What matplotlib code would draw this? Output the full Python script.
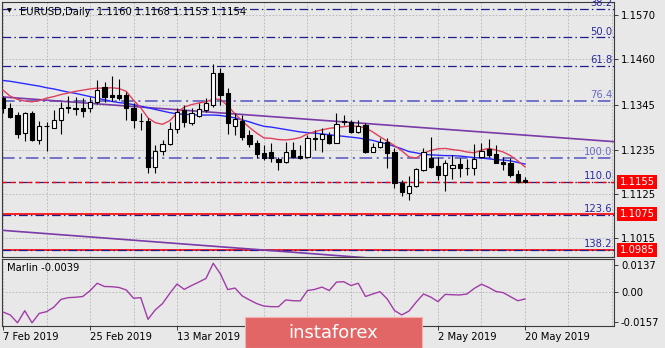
"""
EURUSD daily candlestick chart with moving averages, Fibonacci levels,
trend channel and the Marlin oscillator in a sub-window.
"""
import numpy as np
import matplotlib
matplotlib.use("Agg")  # Non-interactive backend
import matplotlib.pyplot as plt
import matplotlib.transforms as mtransforms
from matplotlib.patches import Rectangle


# Daily bars, 7 Feb 2019 .. 20 May 2019
OPEN = [1.1363, 1.1339, 1.1321, 1.1276, 1.1325, 1.1259, 1.1293, 1.1289, 1.1309, 1.1340,
        1.1339, 1.1338, 1.1338, 1.1354, 1.1390, 1.1371, 1.1371, 1.1371, 1.1338, 1.1307,
        1.1306, 1.1192, 1.1231, 1.1248, 1.1286, 1.1333, 1.1300, 1.1319, 1.1333, 1.1346,
        1.1425, 1.1375, 1.1294, 1.1306, 1.1271, 1.1251, 1.1226, 1.1228, 1.1211, 1.1203,
        1.1234, 1.1219, 1.1217, 1.1262, 1.1261, 1.1271, 1.1252, 1.1303, 1.1303, 1.1280,
        1.1296, 1.1230, 1.1241, 1.1255, 1.1229, 1.1153, 1.1128, 1.1144, 1.1184, 1.1213,
        1.1194, 1.1172, 1.1189, 1.1199, 1.1188, 1.1189, 1.1216, 1.1236, 1.1224, 1.1205,
        1.1202, 1.1174, 1.1160]
HIGH = [1.1368, 1.1350, 1.1328, 1.1329, 1.1331, 1.1306, 1.1304, 1.1334, 1.1354, 1.1369,
        1.1367, 1.1364, 1.1367, 1.1408, 1.1404, 1.1419, 1.1411, 1.1379, 1.1351, 1.1325,
        1.1313, 1.1246, 1.1259, 1.1304, 1.1338, 1.1346, 1.1338, 1.1350, 1.1363, 1.1449,
        1.1437, 1.1389, 1.1325, 1.1321, 1.1284, 1.1259, 1.1246, 1.1251, 1.1217, 1.1255,
        1.1255, 1.1246, 1.1271, 1.1284, 1.1288, 1.1280, 1.1325, 1.1321, 1.1309, 1.1309,
        1.1300, 1.1251, 1.1263, 1.1263, 1.1239, 1.1159, 1.1169, 1.1188, 1.1238, 1.1266,
        1.1217, 1.1209, 1.1222, 1.1213, 1.1211, 1.1249, 1.1251, 1.1261, 1.1246, 1.1217,
        1.1213, 1.1184, 1.1168]
LOW = [1.1326, 1.1314, 1.1265, 1.1256, 1.1256, 1.1248, 1.1232, 1.1288, 1.1274, 1.1325,
       1.1321, 1.1317, 1.1328, 1.1348, 1.1354, 1.1357, 1.1358, 1.1309, 1.1288, 1.1284,
       1.1176, 1.1176, 1.1222, 1.1246, 1.1276, 1.1292, 1.1296, 1.1317, 1.1329, 1.1342,
       1.1346, 1.1273, 1.1271, 1.1259, 1.1242, 1.1213, 1.1209, 1.1205, 1.1184, 1.1201,
       1.1213, 1.1212, 1.1213, 1.1234, 1.1230, 1.1249, 1.1251, 1.1296, 1.1276, 1.1276,
       1.1226, 1.1228, 1.1238, 1.1190, 1.1139, 1.1120, 1.1110, 1.1143, 1.1182, 1.1190,
       1.1159, 1.1133, 1.1163, 1.1166, 1.1172, 1.1172, 1.1213, 1.1217, 1.1201, 1.1184,
       1.1167, 1.1153, 1.1153]
CLOSE = [1.1338, 1.1317, 1.1273, 1.1325, 1.1259, 1.1294, 1.1295, 1.1309, 1.1338, 1.1338,
         1.1337, 1.1332, 1.1354, 1.1383, 1.1367, 1.1365, 1.1363, 1.1338, 1.1309, 1.1305,
         1.1192, 1.1231, 1.1248, 1.1286, 1.1329, 1.1304, 1.1325, 1.1336, 1.1350, 1.1425,
         1.1371, 1.1300, 1.1311, 1.1267, 1.1248, 1.1223, 1.1213, 1.1213, 1.1203, 1.1230,
         1.1217, 1.1213, 1.1263, 1.1264, 1.1273, 1.1251, 1.1298, 1.1305, 1.1280, 1.1294,
         1.1230, 1.1242, 1.1255, 1.1226, 1.1153, 1.1130, 1.1144, 1.1186, 1.1230, 1.1192,
         1.1172, 1.1201, 1.1197, 1.1189, 1.1189, 1.1211, 1.1232, 1.1222, 1.1202, 1.1199,
         1.1172, 1.1155, 1.1154]

# Moving averages as plotted on the chart
MA_FAST = [1.1383, 1.1368, 1.1360, 1.1356, 1.1354, 1.1357, 1.1363, 1.1367, 1.1372, 1.1376,
           1.1380, 1.1383, 1.1386, 1.1388, 1.1388, 1.1389, 1.1387, 1.1380, 1.1358, 1.1339,
           1.1314, 1.1302, 1.1298, 1.1307, 1.1326, 1.1341, 1.1347, 1.1351, 1.1354, 1.1361,
           1.1360, 1.1344, 1.1324, 1.1306, 1.1290, 1.1276, 1.1264, 1.1263, 1.1260, 1.1259,
           1.1261, 1.1265, 1.1274, 1.1280, 1.1284, 1.1288, 1.1290, 1.1292, 1.1294, 1.1293,
           1.1289, 1.1279, 1.1267, 1.1256, 1.1245, 1.1232, 1.1217, 1.1214, 1.1226, 1.1233,
           1.1237, 1.1238, 1.1235, 1.1233, 1.1229, 1.1227, 1.1234, 1.1238, 1.1234, 1.1229,
           1.1220, 1.1207, 1.1192]
MA_SLOW = [1.1407, 1.1405, 1.1402, 1.1399, 1.1396, 1.1393, 1.1389, 1.1386, 1.1382, 1.1378,
           1.1375, 1.1371, 1.1367, 1.1363, 1.1359, 1.1355, 1.1352, 1.1350, 1.1347, 1.1343,
           1.1339, 1.1335, 1.1331, 1.1327, 1.1324, 1.1323, 1.1322, 1.1321, 1.1321, 1.1321,
           1.1320, 1.1317, 1.1314, 1.1309, 1.1304, 1.1298, 1.1293, 1.1291, 1.1288, 1.1285,
           1.1282, 1.1279, 1.1277, 1.1276, 1.1274, 1.1272, 1.1270, 1.1268, 1.1266, 1.1264,
           1.1261, 1.1258, 1.1253, 1.1249, 1.1243, 1.1237, 1.1230, 1.1227, 1.1223, 1.1222,
           1.1221, 1.1220, 1.1220, 1.1219, 1.1217, 1.1215, 1.1214, 1.1212, 1.1210, 1.1209,
           1.1207, 1.1203, 1.1199]

# Marlin oscillator, one value per bar
MARLIN = [-0.0107, -0.0122, -0.0163, -0.0100, -0.0163, -0.0114, -0.0105, -0.0082, -0.0041, -0.0032,
          -0.0030, -0.0026, 0.0004, 0.0043, 0.0026, 0.0025, 0.0021, 0.0008, -0.0035, -0.0032,
          -0.0145, -0.0096, -0.0063, -0.0010, 0.0039, 0.0011, 0.0031, 0.0049, 0.0068, 0.0147,
          0.0091, 0.0010, 0.0018, -0.0023, -0.0044, -0.0063, -0.0076, -0.0079, -0.0079, -0.0044,
          -0.0048, -0.0049, 0.0005, 0.0011, 0.0023, 0.0005, 0.0049, 0.0051, 0.0031, 0.0043,
          -0.0026, -0.0013, -0.0001, -0.0039, -0.0099, -0.0122, -0.0102, -0.0055, -0.0013, -0.0029,
          -0.0053, -0.0015, -0.0017, -0.0018, -0.0013, 0.0016, 0.0038, 0.0021, 0.0000, -0.0006,
          -0.0027, -0.0048, -0.0039]

# Time-axis labels (29 Mar and 16 Apr sit under the watermark, ticks only)
DATE_BARS = [0, 12, 24, 36, 48, 60, 72]
DATE_LABELS = ["7 Feb 2019", "25 Feb 2019", "13 Mar 2019", "",
               "", "2 May 2019", "20 May 2019"]

PRICE_TICKS = [1.1570, 1.1460, 1.1345, 1.1235, 1.1125, 1.1015]
MARLIN_TICKS = [0.0137, 0.0, -0.0157]
MARLIN_TICK_LABELS = ["0.0137", "0.00", "-0.0157"]

# Fibonacci grid anchors (0% and 100%)
FIB_START = 1.1815
FIB_END = 1.1214
FIB_LEVELS = [38.2, 50.0, 61.8, 76.4, 100.0, 110.0, 123.6, 138.2]

# Horizontal support levels with price tags
SUPPORT_LEVELS = [1.1155, 1.1075, 1.0985]

# Channel lines: (bar, price) anchor pairs
UPPER_TREND = [(0, 1.1366), (72, 1.1271)]
LOWER_TREND = [(0, 1.1034), (47, 1.0970)]

HEADER = "EURUSD,Daily  1.1160 1.1168 1.1153 1.1154"
MARLIN_TITLE = "Marlin -0.0039"

# Colours
BG = "#e8e8e8"
GRID = "#b4b4b4"
FRAME = "#3a3a3a"
FIB_DARK = "#1c1c8c"
FIB_LIGHT = "#6a6ac6"
FIB_TEXT = "#2a2aa0"
MA_FAST_COLOR = "#e0405c"
MA_SLOW_COLOR = "#2a2aff"
TREND_COLOR = "#7a3aa8"
MARLIN_COLOR = "#a03ca8"
FONT = 7.2

W, H = 665, 348


def _fig_rect(x0, y0, x1, y1):
    """Pixel box (top-left origin) to figure-fraction rect."""
    return [x0 / W, 1 - y1 / H, (x1 - x0) / W, (y1 - y0) / H]


def _style_axes(ax):
    ax.set_facecolor(BG)
    for spine in ax.spines.values():
        spine.set_color(FRAME)
        spine.set_linewidth(0.8)
    ax.yaxis.tick_right()
    ax.tick_params(axis="y", direction="out", length=3, width=0.7, color=FRAME,
                   labelsize=FONT, pad=2)
    ax.tick_params(axis="x", direction="out", length=3, width=0.7, color=FRAME,
                   labelsize=FONT, pad=1)


def _draw_candles(ax, opens, highs, lows, closes, width=0.6):
    o, h, l, c = map(np.asarray, (opens, highs, lows, closes))
    x = np.arange(len(o))
    ax.vlines(x, l, h, color="black", lw=0.8, zorder=6)
    up = c >= o
    bottoms = np.minimum(o, c)
    heights = np.maximum(np.abs(c - o), 0.00002)
    ax.bar(x[up], heights[up], width, bottom=bottoms[up], color="white",
           edgecolor="black", lw=0.8, zorder=7)
    ax.bar(x[~up], heights[~up], width, bottom=bottoms[~up], color="black",
           edgecolor="black", lw=0.8, zorder=7)


def _trend_line(ax, anchors, xlim):
    (b0, p0), (b1, p1) = anchors
    slope = (p1 - p0) / (b1 - b0)
    xs = np.array(xlim)
    ax.plot(xs, p0 + slope * (xs - b0), color=TREND_COLOR, lw=1.2, zorder=4)


def main():
    n_bars = len(CLOSE)
    bars = np.arange(n_bars)
    xlim = (-0.14, 84.28)

    fig = plt.figure(figsize=(W / 100, H / 100), dpi=100)
    fig.patch.set_facecolor(BG)
    plt.rcParams["font.family"] = ["DejaVu Sans"]

    ax = fig.add_axes(_fig_rect(2, 2, 614, 257))
    osc = fig.add_axes(_fig_rect(2, 259, 614, 326))
    _style_axes(ax)
    _style_axes(osc)

    # --- price panel ---
    ax.set_xlim(*xlim)
    ax.set_ylim(1.09677, 1.16024)
    ax.set_yticks(PRICE_TICKS)
    ax.set_yticklabels([f"{p:.4f}" for p in PRICE_TICKS])
    ax.set_xticks([])

    grid_bars = np.arange(0, 85, 6)
    for gb in grid_bars:
        ax.axvline(gb, color=GRID, lw=0.6, ls=(0, (2, 2)), zorder=1)
        osc.axvline(gb, color=GRID, lw=0.6, ls=(0, (2, 2)), zorder=1)
    for p in PRICE_TICKS:
        ax.axhline(p, color=GRID, lw=0.6, ls=(0, (2, 2)), zorder=1)

    # Fibonacci levels
    fib_range = FIB_START - FIB_END
    label_tr = mtransforms.blended_transform_factory(ax.transAxes, ax.transData)
    for lvl in FIB_LEVELS:
        price = FIB_START - fib_range * lvl / 100.0
        light = lvl in (76.4, 100.0)
        color = FIB_LIGHT if light else FIB_DARK
        ax.axhline(price, color=color, lw=1.3 if light else 0.9,
                   ls=(0, (7, 2.5, 1.2, 2.5)), zorder=2)
        ax.text(0.997, price + 0.0002, f"{lvl:.1f}", transform=label_tr,
                ha="right", va="bottom", fontsize=FONT,
                color=FIB_LIGHT if light else FIB_TEXT, zorder=9)

    # Support levels with red price tags on the axis
    for i, price in enumerate(SUPPORT_LEVELS):
        if i == 0:
            ax.axhline(price, color="red", lw=1.0, ls=(0, (3, 3)), zorder=3)
        else:
            ax.axhline(price, color="red", lw=1.2, zorder=1.5)
        ax.annotate(f"{price:.4f}", xy=(1.0, price), xycoords=label_tr,
                    xytext=(4, 0), textcoords="offset points",
                    ha="left", va="center", fontsize=FONT, color="white",
                    annotation_clip=False, zorder=10,
                    bbox=dict(boxstyle="square,pad=0.22", fc="#ff0000", ec="none"))

    _trend_line(ax, UPPER_TREND, xlim)
    _trend_line(ax, LOWER_TREND, xlim)

    ax.plot(bars, MA_SLOW, color=MA_SLOW_COLOR, lw=1.0, zorder=5)
    ax.plot(bars, MA_FAST, color=MA_FAST_COLOR, lw=1.0, zorder=5)

    _draw_candles(ax, OPEN, HIGH, LOW, CLOSE)

    ax.text(7 / 612, 1 - 9 / 255, "\u25bc", transform=ax.transAxes, fontsize=4.5,
            ha="center", va="center", color="black", zorder=10)
    ax.text(18 / 612, 1 - 10 / 255, HEADER, transform=ax.transAxes, fontsize=FONT,
            ha="left", va="center", color="black", zorder=10)

    # --- Marlin sub-window ---
    osc.set_xlim(*xlim)
    osc.set_ylim(-0.01797, 0.01693)
    osc.axhline(0.0, color=GRID, lw=0.6, ls=(0, (2, 2)), zorder=1)
    osc.plot(bars, MARLIN, color=MARLIN_COLOR, lw=1.0, zorder=5)
    osc.set_yticks(MARLIN_TICKS)
    osc.set_yticklabels(MARLIN_TICK_LABELS)
    osc.set_xticks(DATE_BARS)
    ticklabels = osc.set_xticklabels(DATE_LABELS)
    for lbl in ticklabels:
        lbl.set_ha("left")
    osc.text(5 / 612, 1 - 9 / 67, MARLIN_TITLE, transform=osc.transAxes,
             fontsize=FONT, ha="left", va="center", color="black", zorder=10)

    # Broker watermark at the bottom
    fig.add_artist(Rectangle((245 / W, 0), (422 - 245) / W, 31 / H,
                             transform=fig.transFigure, facecolor="#e36666",
                             edgecolor="#f2b0b0", lw=0.8, zorder=20))
    fig.text(333 / W, 1 - 333 / H, "instaforex", fontsize=13, color="white",
             ha="center", va="center", zorder=21)

    fig.savefig("out.png", dpi=100, facecolor=fig.get_facecolor())
    plt.close(fig)


if __name__ == "__main__":
    main()
